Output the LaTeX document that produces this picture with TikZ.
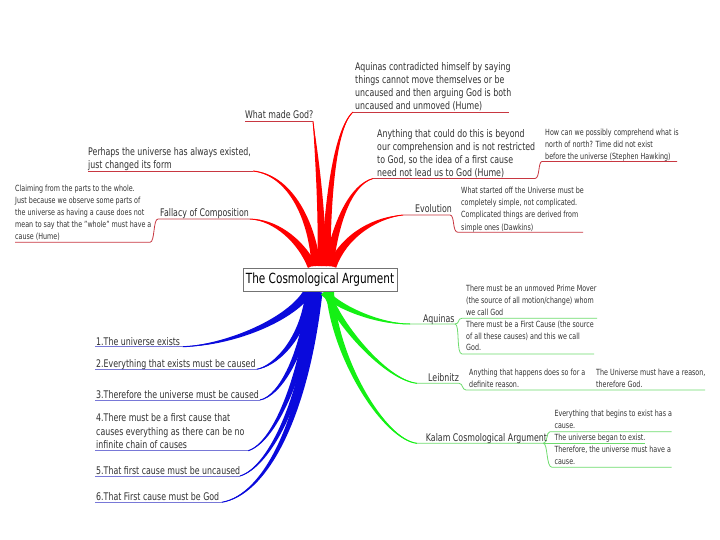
\documentclass[tikz,border=0pt]{standalone}
\usepackage{fontspec}
\setmainfont{DejaVu Sans}[FakeStretch=0.75]
\usetikzlibrary{calc}
\definecolor{txt}{RGB}{50,50,50}
\definecolor{bred}{RGB}{255,0,0}
\definecolor{bblue}{RGB}{10,10,220}
\definecolor{bgreen}{RGB}{20,240,20}
\definecolor{ured}{RGB}{200,55,65}
\definecolor{ublue}{RGB}{120,120,215}
\definecolor{ugreen}{RGB}{110,220,110}
% tapered branch: colour, start, control 1, control 2, end, half width at start
\newcommand{\tbranch}[6]{%
  \fill[#1] ($(#2)!#6pt!90:(#3)$) .. controls ($(#3)!0.75*#6pt!90:(#4)$) and ($(#4)!0.35*#6pt!90:(#5)$) .. (#5)
     .. controls ($(#4)!0.35*#6pt!-90:(#5)$) and ($(#3)!0.75*#6pt!-90:(#4)$) .. ($(#2)!#6pt!-90:(#3)$) -- cycle;
  \draw[#1, line width=1pt] (#2) .. controls (#3) and (#4) .. (#5);}
\begin{document}
\begin{tikzpicture}[x=1pt,y=-1pt,
  lbl/.style={anchor=base west, inner sep=0pt, align=left, text=txt, font=\fontsize{10.5}{13}\selectfont},
  sm/.style={lbl, font=\fontsize{8.5}{12}\selectfont},
  smg/.style={lbl, font=\fontsize{8.5}{11.6}\selectfont},
  rl/.style={draw=ured, line width=0.8pt},
  bl/.style={draw=ublue, line width=0.8pt},
  gl/.style={draw=ugreen, line width=0.8pt},
  rootbox/.style={draw=black!55, fill=white, line width=0.8pt, minimum width=154pt, minimum height=23pt, inner sep=0pt, font=\fontsize{14}{16}\selectfont}]
\useasboundingbox[fill=white] (0,0) rectangle (720,540);

% ---------- root start points ----------
\coordinate (rs1) at (322,266);
\coordinate (rs2) at (326,266);
\coordinate (rs3) at (329,266);
\coordinate (rs4) at (332,266);
\coordinate (rs5) at (316,266);
\coordinate (rs6) at (312,266);
\coordinate (bs1) at (308,292);
\coordinate (bs2) at (310,292);
\coordinate (bs3) at (312,292);
\coordinate (bs4) at (314,292);
\coordinate (bs5) at (316,292);
\coordinate (bs6) at (318,292);
\coordinate (gs1) at (324,292);
\coordinate (gs2) at (327,292);
\coordinate (gs3) at (330,292);

% ---------- underline end points ----------
\coordinate (wmgL) at (245,121.5);  \coordinate (wmgR) at (313,121.5);
\coordinate (aqcL) at (353,112);    \coordinate (aqcR) at (509,112);
\coordinate (anyL) at (373,178.5);  \coordinate (anyR) at (535,178.5);
\coordinate (hawL) at (542,161.5);  \coordinate (hawR) at (677,161.5);
\coordinate (evoL) at (403,215);    \coordinate (evoR) at (450,215);
\coordinate (dawL) at (458,232.3);  \coordinate (dawR) at (583,232.3);
\coordinate (perL) at (88,171);     \coordinate (perR) at (253,171);
\coordinate (falL) at (158,219);    \coordinate (falR) at (250,219);
\coordinate (humL) at (15,242.3);   \coordinate (humR) at (150,242.3);

\coordinate (b1L) at (95,346.7);  \coordinate (b1R) at (182.7,346.7);
\coordinate (b2L) at (95,369.3);  \coordinate (b2R) at (256.7,369.3);
\coordinate (b3L) at (95,400);    \coordinate (b3R) at (260,400);
\coordinate (b4L) at (95,450.7);  \coordinate (b4R) at (248.3,450.7);
\coordinate (b5L) at (95,476);    \coordinate (b5R) at (240,476);
\coordinate (b6L) at (95,502.3);  \coordinate (b6R) at (221.7,502.3);

\coordinate (aqgL) at (410,324);    \coordinate (aqgR) at (455,324);
\coordinate (pmL) at (462,318.3);   \coordinate (pmR) at (597,318.3);
\coordinate (fcL) at (462,354);     \coordinate (fcR) at (594,354);
\coordinate (leiL) at (417,383.3);  \coordinate (leiR) at (459,383.3);
\coordinate (athL) at (466,390);    \coordinate (athR) at (595,390);
\coordinate (urR) at (705,390);
\coordinate (kalL) at (417,443.3);  \coordinate (kalR) at (543.3,443.3);
\coordinate (evL) at (550,431.7);   \coordinate (evR) at (671.7,431.7);
\coordinate (ubL) at (553,443.3);   \coordinate (ubR) at (645,443.3);
\coordinate (thL) at (552,467.3);   \coordinate (thR) at (671.7,467.3);

% ---------- thick branches ----------
\tbranch{bred}{rs1}{322,205}{316,150}{wmgR}{4.5}
\tbranch{bred}{rs2}{327,215}{333,130}{aqcL}{4.5}
\tbranch{bred}{rs3}{335,225}{350,185}{anyL}{4.5}
\tbranch{bred}{rs4}{345,235}{375,218}{evoL}{4.5}
\tbranch{bred}{rs5}{312,220}{290,175}{perR}{4.5}
\tbranch{bred}{rs6}{300,240}{275,220}{falR}{4.5}

\tbranch{bblue}{bs1}{290,320}{230,345}{b1R}{4.5}
\tbranch{bblue}{bs2}{303,340}{275,366}{b2R}{4.5}
\tbranch{bblue}{bs3}{303,355}{280,396}{b3R}{4.5}
\tbranch{bblue}{bs4}{303,375}{275,442}{b4R}{4.5}
\tbranch{bblue}{bs5}{306,395}{270,467}{b5R}{4.5}
\tbranch{bblue}{bs6}{305,420}{265,495}{b6R}{4.5}

\tbranch{bgreen}{gs1}{335,305}{375,324}{aqgL}{4}
\tbranch{bgreen}{gs2}{335,320}{385,380}{leiL}{4}
\tbranch{bgreen}{gs3}{335,360}{385,440}{kalL}{4}

% ---------- underlines and sub connectors ----------
\draw[rl] (wmgL) -- (wmgR);
\draw[rl] (aqcL) -- (aqcR);
\draw[rl] (anyL) -- (anyR) .. controls (540,178.5) and (538,161.5) .. (hawL) -- (hawR);
\draw[rl] (evoL) -- (evoR) .. controls (455,215) and (452,232.3) .. (dawL) -- (dawR);
\draw[rl] (perL) -- (perR);
\draw[rl] (falR) -- (falL) .. controls (153,219) and (155,242.3) .. (humR) -- (humL);

\draw[bl] (b1L) -- (b1R);
\draw[bl] (b2L) -- (b2R);
\draw[bl] (b3L) -- (b3R);
\draw[bl] (b4L) -- (b4R);
\draw[bl] (b5L) -- (b5R);
\draw[bl] (b6L) -- (b6R);

\draw[gl] (aqgL) -- (aqgR) .. controls (460,324) and (457,318.3) .. (pmL) -- (pmR);
\draw[gl] (aqgR) .. controls (460,324) and (456,354) .. (fcL) -- (fcR);
\draw[gl] (leiL) -- (leiR) .. controls (463,383.3) and (462,390) .. (athL) -- (athR) -- (urR);
\draw[gl] (kalL) -- (kalR) .. controls (548,443.3) and (546,431.7) .. (evL) -- (evR);
\draw[gl] (kalR) -- (ubL) -- (ubR);
\draw[gl] (kalR) .. controls (548,443.3) and (546,467.3) .. (thL) -- (thR);

% ---------- root ----------
\node[rootbox] (root) at (320,279.5) {The Cosmological Argument};

% ---------- texts (anchor = baseline of last line) ----------
\node[lbl] (wmg) at (245,119) {What made God?};
\node[lbl] (aqc) at (355,109.5) {Aquinas contradicted himself by saying\\things cannot move themselves or be\\uncaused and then arguing God is both\\uncaused and unmoved (Hume)};
\node[lbl] (any) at (377,176.3) {Anything that could do this is beyond\\our comprehension and is not restricted\\to God, so the idea of a first cause\\need not lead us to God (Hume)};
\node[sm] (haw) at (545,159.2) {How can we possibly comprehend what is\\north of north? Time did not exist\\before the universe (Stephen Hawking)};
\node[lbl] (evo) at (415,213) {Evolution};
\node[sm] (daw) at (461,230) {What started off the Universe must be\\completely simple, not complicated.\\Complicated things are derived from\\simple ones (Dawkins)};
\node[lbl] (per) at (88,169) {Perhaps the universe has always existed,\\just changed its form};
\node[lbl] (fal) at (160,216.7) {Fallacy of Composition};
\node[sm] (hum) at (15,240) {Claiming from the parts to the whole.\\Just because we observe some parts of\\the universe as having a cause does not\\mean to say that the "whole" must have a\\cause (Hume)};

\node[lbl] (b1) at (96,345) {1.The universe exists};
\node[lbl] (b2) at (96,367.7) {2.Everything that exists must be caused};
\node[lbl] (b3) at (96,398.3) {3.Therefore the universe must be caused};
\node[lbl, font=\fontsize{10.5}{13.3}\selectfont] (b4) at (96,448.3) {4.There must be a first cause that\\causes everything as there can be no\\infinite chain of causes};
\node[lbl] (b5) at (96,474) {5.That first cause must be uncaused};
\node[lbl] (b6) at (96,500) {6.That First cause must be God};

\node[lbl] (aqg) at (423,322.7) {Aquinas};
\node[smg] (pm) at (466,315) {There must be an unmoved Prime Mover\\(the source of all motion/change) whom\\we call God};
\node[smg] (fc) at (466,350.7) {There must be a First Cause (the source\\of all these causes) and this we call\\God.};
\node[lbl] (lei) at (428,381.7) {Leibnitz};
\node[smg] (ath) at (469,387.4) {Anything that happens does so for a\\definite reason.};
\node[smg] (ur) at (596,387.4) {The Universe must have a reason,\\therefore God.};
\node[lbl] (kal) at (425.7,441.7) {Kalam Cosmological Argument};
\node[smg] (ev) at (554.3,428.5) {Everything that begins to exist has a\\cause.};
\node[smg] (ub) at (554.3,440.7) {The universe began to exist.};
\node[smg] (th) at (554.3,464.5) {Therefore, the universe must have a\\cause.};
\end{tikzpicture}
\end{document}
